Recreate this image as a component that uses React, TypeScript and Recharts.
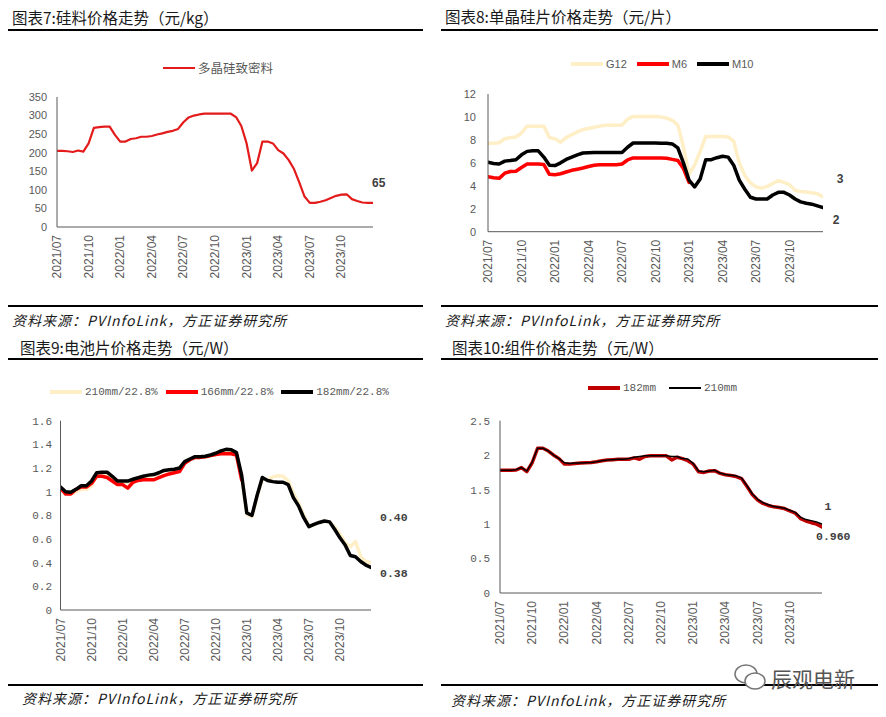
import React from 'react';
import { LineChart, Line, XAxis, YAxis, Legend } from 'recharts';

const SANS = '"Liberation Sans", Arial, sans-serif';
const MONO = '"Liberation Mono", "DejaVu Sans Mono", monospace';
const CJK = '"Noto Sans CJK SC", "Noto Sans", sans-serif';
const AXIS = '#595959';
const TXT = '#595959';
const LBL = '#404040';

// x positions: months since 2021/07
const months = [
  0, 0.5, 1, 1.5, 2, 2.5, 3, 3.5, 4, 4.5,
  5, 5.5, 6, 6.5, 7, 7.5, 8, 8.5, 9, 9.5,
  10, 10.5, 11, 11.5, 12, 12.5, 13, 13.5, 14, 14.5,
  15, 15.5, 16, 16.5, 17, 17.5, 18, 18.5, 19, 19.5,
  20, 20.5, 21, 21.5, 22, 22.5, 23, 23.5, 24, 24.5,
  25, 25.5, 26, 26.5, 27, 27.5, 28, 28.5, 29, 29.5,
  30,
];
const xTicks = [0, 3, 6, 9, 12, 15, 18, 21, 24, 27];
const xTickLabels = ['2021/07', '2021/10', '2022/01', '2022/04', '2022/07', '2022/10', '2023/01', '2023/04', '2023/07', '2023/10'];

// 图表7 多晶硅致密料 (元/kg)
const polySilicon = [
  205, 205, 204, 202, 206, 203, 225, 267, 269, 270,
  270, 248, 230, 230, 237, 239, 243, 243, 245, 249,
  252, 256, 259, 264, 282, 295, 300, 303, 305, 305,
  305, 305, 305, 305, 296, 272, 225, 152, 172, 230,
  230, 225, 207, 198, 180, 156, 120, 82, 65, 65,
  68, 72, 78, 84, 87, 88, 75, 70, 66, 65,
  65,
];

// 图表8 单晶硅片 (元/片)
const waferG12 = [
  7.7, 7.7, 7.75, 8.1, 8.2, 8.25, 8.6, 9.2, 9.2, 9.2,
  9.2, 8.2, 8.1, 7.8, 8.2, 8.45, 8.7, 8.9, 9.0, 9.1,
  9.2, 9.27, 9.27, 9.27, 9.3, 9.8, 10.05, 10.05, 10.05, 10.05,
  10.05, 10.0, 9.9, 9.7, 9.3, 7.4, 5.0, 5.8, 7.0, 8.3,
  8.3, 8.3, 8.3, 8.25, 7.9, 6.0, 4.9, 4.25, 3.9, 3.8,
  3.95, 4.2, 4.45, 4.3, 4.1, 3.6, 3.5, 3.45, 3.4, 3.3,
  3.05,
];
const waferM6 = [
  4.8, 4.7, 4.65, 5.1, 5.25, 5.27, 5.6, 5.9, 5.9, 5.9,
  5.85, 5.0, 4.97, 5.05, 5.2, 5.35, 5.45, 5.55, 5.68, 5.79,
  5.84, 5.84, 5.84, 5.84, 5.9, 6.25, 6.43, 6.43, 6.43, 6.43,
  6.43, 6.43, 6.4, 6.3, 6.2, 5.5, 4.3, null, null, null,
  null, null, null, null, null, null, null, null, null, null,
  null, null, null, null, null, null, null, null, null, null,
  null,
];
const waferM10 = [
  6.05, 5.95, 5.9, 6.15, 6.2, 6.27, 6.7, 7.0, 7.05, 7.05,
  6.5, 5.8, 5.76, 6.0, 6.3, 6.5, 6.7, 6.86, 6.88, 6.9,
  6.9, 6.9, 6.9, 6.9, 6.9, 7.36, 7.73, 7.73, 7.73, 7.72,
  7.72, 7.7, 7.7, 7.65, 7.3, 6.0, 4.5, 3.9, 4.6, 6.28,
  6.28, 6.45, 6.57, 6.5, 5.8, 4.5, 3.7, 3.0, 2.85, 2.85,
  2.85, 3.2, 3.43, 3.43, 3.2, 2.85, 2.6, 2.48, 2.4, 2.25,
  2.1,
];

// 图表9 电池片 (元/W)
const cell210 = [
  1.02, 0.99, 0.98, 1.0, 1.02, 1.02, 1.05, 1.14, 1.15, 1.15,
  1.12, 1.08, 1.08, 1.08, 1.1, 1.11, 1.12, 1.13, 1.14, 1.155,
  1.175, 1.18, 1.185, 1.195, 1.25, 1.27, 1.29, 1.29, 1.295, 1.305,
  1.32, 1.34, 1.35, 1.35, 1.32, 1.13, 0.81, 0.79, 0.96, 1.11,
  1.1, 1.125, 1.135, 1.13, 1.09, 0.99, 0.9, 0.8, 0.71, 0.72,
  0.74, 0.75, 0.745, 0.7, 0.64, 0.57, 0.535, 0.58, 0.45, 0.41,
  0.40,
];
const cell166 = [
  1.03, 0.98, 0.98, 1.02, 1.04, 1.04, 1.07, 1.13, 1.13, 1.12,
  1.09, 1.06, 1.06, 1.03, 1.08, 1.095, 1.1, 1.1, 1.1, 1.118,
  1.135, 1.15, 1.16, 1.17, 1.24, 1.27, 1.29, 1.29, 1.295, 1.305,
  1.315, 1.32, 1.32, 1.32, 1.31, 1.1, null, null, null, null,
  null, null, null, null, null, null, null, null, null, null,
  null, null, null, null, null, null, null, null, null, null,
  null,
];
const cell182 = [
  1.04, 1.0, 0.995, 1.02, 1.05, 1.05, 1.09, 1.16, 1.165, 1.165,
  1.13, 1.09, 1.09, 1.09, 1.105, 1.118, 1.13, 1.14, 1.145, 1.16,
  1.18, 1.185, 1.19, 1.2, 1.254, 1.276, 1.296, 1.296, 1.3, 1.31,
  1.325, 1.345, 1.358, 1.355, 1.33, 1.14, 0.82, 0.8, 0.97, 1.12,
  1.095, 1.085, 1.08, 1.08, 1.06, 0.95, 0.88, 0.78, 0.705, 0.724,
  0.74, 0.752, 0.745, 0.68, 0.61, 0.55, 0.46, 0.45, 0.41, 0.38,
  0.36,
];

// 图表10 组件 (元/W)
const module182 = [
  1.78, 1.78, 1.78, 1.785, 1.82, 1.76, 1.89, 2.1, 2.1, 2.06,
  2.0, 1.95, 1.87, 1.87, 1.88, 1.885, 1.89, 1.895, 1.905, 1.92,
  1.93, 1.935, 1.94, 1.94, 1.94, 1.96, 1.94, 1.98, 1.99, 1.99,
  1.99, 1.99, 1.93, 1.97, 1.95, 1.92, 1.87, 1.76, 1.75, 1.77,
  1.775, 1.735, 1.715, 1.705, 1.69, 1.66, 1.55, 1.43, 1.35, 1.3,
  1.27, 1.25, 1.24, 1.225, 1.19, 1.16, 1.08, 1.045, 1.02, 1.0,
  0.96,
];
const module210 = [
  1.78, 1.78, 1.78, 1.79, 1.82, 1.77, 1.9, 2.1, 2.1, 2.06,
  2.0, 1.95, 1.89, 1.88, 1.885, 1.885, 1.89, 1.895, 1.905, 1.92,
  1.93, 1.935, 1.94, 1.94, 1.95, 1.97, 1.98, 1.99, 1.99, 1.99,
  1.99, 1.99, 1.98, 1.98, 1.95, 1.945, 1.88, 1.77, 1.76, 1.77,
  1.78, 1.74, 1.72, 1.71, 1.7, 1.67, 1.56, 1.44, 1.36, 1.31,
  1.28, 1.255, 1.245, 1.23, 1.2, 1.17, 1.1, 1.065, 1.05, 1.03,
  1.0,
];

const yTicks1 = [0, 50, 100, 150, 200, 250, 300, 350];
const yTicks2 = [0, 2, 4, 6, 8, 10, 12];
const yTicks3 = [0, 0.2, 0.4, 0.6, 0.8, 1, 1.2, 1.4, 1.6];
const yTicks4 = [0, 0.5, 1, 1.5, 2, 2.5];

const endLabels = { poly: '65', g12: '3', m10: '2', c210: '0.40', c182: '0.38', m210: '1', m182: '0.960' };

const titles = ['图表7:硅料价格走势（元/kg）', '图表8:单晶硅片价格走势（元/片）', '图表9:电池片价格走势（元/W）', '图表10:组件价格走势（元/W）'];
const sourceText = '资料来源：PVInfoLink，方正证券研究所';

type EndLabel = { text: string; dx: number; dy: number; anchor: 'start' | 'middle' | 'end'; font: string; size: number };
type SeriesDef = {
  key: string; name: string; values: (number | null)[]; color: string; width: number;
  legendThick: number; end?: EndLabel;
};
type PanelProps = {
  w: number; h: number; top: number; right: number; yW: number; xH: number;
  yDomain: [number, number]; yTicks: number[]; yFmt: (v: number) => string; yFont: string; yTM: number;
  series: SeriesDef[]; legLeft: number; legTop: number; legGap: number; legFont: string; legSize: number;
};

const RotTick = (props: any) => {
  const { x, y, payload } = props;
  const i = xTicks.indexOf(payload.value);
  return (
    <g transform={`translate(${x},${y})`}>
      <text transform="rotate(-90)" x={0} y={0} textAnchor="end" dominantBaseline="central"
        fill={TXT} fontSize={12} fontFamily={SANS}>{i >= 0 ? xTickLabels[i] : ''}</text>
    </g>
  );
};

const makeEnd = (lastIndex: number, e: EndLabel) => (props: any) => {
  if (props.index !== lastIndex || props.x == null || props.y == null) return null;
  return (
    <text x={props.x + e.dx} y={props.y + e.dy} textAnchor={e.anchor} dominantBaseline="central"
      fontFamily={e.font} fontSize={e.size} fontWeight="bold" fill={LBL}>{e.text}</text>
  );
};

const LegendRow = ({ series, gap, font, size }: { series: SeriesDef[]; gap: number; font: string; size: number }) => (
  <div style={{ display: 'flex', alignItems: 'center', whiteSpace: 'nowrap', height: 16 }}>
    {series.map((s, i) => (
      <div key={s.key} style={{ display: 'flex', alignItems: 'center', marginLeft: i === 0 ? 0 : gap }}>
        <span style={{ display: 'inline-block', width: 32, height: s.legendThick, background: s.color }} />
        <span style={{ marginLeft: 3, fontFamily: font, fontSize: size, color: TXT, lineHeight: '16px' }}>{s.name}</span>
      </div>
    ))}
  </div>
);

function Panel(p: PanelProps) {
  const data = months.map((m, i) => {
    const r: Record<string, number | null> = { m };
    p.series.forEach((s) => { r[s.key] = s.values[i]; });
    return r;
  });
  return (
    <LineChart width={p.w} height={p.h} data={data} margin={{ top: p.top, right: p.right, bottom: 0, left: 0 }}>
      <XAxis type="number" dataKey="m" domain={[0, 30]} ticks={xTicks} interval={0} tickLine={false}
        tickSize={0} tickMargin={8} axisLine={{ stroke: AXIS }} height={p.xH} tick={<RotTick />} allowDataOverflow />
      <YAxis type="number" domain={p.yDomain} ticks={p.yTicks} interval={0} tickLine={false} tickSize={0}
        tickMargin={p.yTM} axisLine={{ stroke: AXIS }} width={p.yW}
        tick={{ fill: TXT, fontSize: 11, fontFamily: p.yFont }} tickFormatter={p.yFmt} allowDataOverflow />
      <Legend layout="horizontal" verticalAlign="middle" align="center"
        wrapperStyle={{ left: p.legLeft, top: p.legTop, width: 400, height: 16 }}
        content={() => <LegendRow series={p.series} gap={p.legGap} font={p.legFont} size={p.legSize} />} />
      {p.series.map((s) => (
        <Line key={s.key} type="linear" dataKey={s.key} name={s.name} stroke={s.color} strokeWidth={s.width}
          dot={false} activeDot={false} isAnimationActive={false} connectNulls={false}
          strokeLinejoin="round" strokeLinecap="round"
          label={s.end ? makeEnd(s.values.filter((v) => v !== null).length - 1, s.end) : false} />
      ))}
    </LineChart>
  );
}

const fmtInt = (v: number) => String(v);
const fmtDec = (v: number) => (Math.abs(v - Math.round(v)) < 1e-9 ? String(Math.round(v)) : v.toFixed(1));

const CREAM = '#FFEFC6';
const RED = '#FF0000';

const series1: SeriesDef[] = [
  { key: 'poly', name: '多晶硅致密料', values: polySilicon, color: '#E31B1B', width: 2.2, legendThick: 2.5,
    end: { text: endLabels.poly, dx: -1, dy: -20, anchor: 'start', font: SANS, size: 12 } },
];
const series2: SeriesDef[] = [
  { key: 'g12', name: 'G12', values: waferG12, color: CREAM, width: 3.5, legendThick: 4,
    end: { text: endLabels.g12, dx: 17, dy: -18, anchor: 'middle', font: SANS, size: 12 } },
  { key: 'm6', name: 'M6', values: waferM6, color: RED, width: 3.5, legendThick: 4 },
  { key: 'm10', name: 'M10', values: waferM10, color: '#000000', width: 3.5, legendThick: 4,
    end: { text: endLabels.m10, dx: 13, dy: 12, anchor: 'middle', font: SANS, size: 12 } },
];
const series3: SeriesDef[] = [
  { key: 'c210', name: '210mm/22.8%', values: cell210, color: CREAM, width: 3.5, legendThick: 4,
    end: { text: endLabels.c210, dx: 9, dy: -45, anchor: 'start', font: MONO, size: 11.5 } },
  { key: 'c166', name: '166mm/22.8%', values: cell166, color: RED, width: 3.5, legendThick: 4 },
  { key: 'c182', name: '182mm/22.8%', values: cell182, color: '#000000', width: 3.5, legendThick: 4,
    end: { text: endLabels.c182, dx: 9, dy: 6, anchor: 'start', font: MONO, size: 11.5 } },
];
const series4: SeriesDef[] = [
  { key: 'm182', name: '182mm', values: module182, color: '#C00000', width: 3.5, legendThick: 4,
    end: { text: endLabels.m182, dx: -6, dy: 10, anchor: 'start', font: MONO, size: 11.5 } },
  { key: 'm210', name: '210mm', values: module210, color: '#000000', width: 1.5, legendThick: 2,
    end: { text: endLabels.m210, dx: 6, dy: -18, anchor: 'middle', font: MONO, size: 11.5 } },
];

const Rule = ({ x, y, w }: { x: number; y: number; w: number }) => (
  <div style={{ position: 'absolute', left: x, top: y, width: w, height: 2, background: '#000' }} />
);
const Title = ({ x, y, text }: { x: number; y: number; text: string }) => (
  <div style={{ position: 'absolute', left: x, top: y - 11, height: 22, lineHeight: '22px', fontSize: 15.5,
    fontFamily: CJK, color: '#1a1a1a', whiteSpace: 'nowrap' }}>{text}</div>
);
const Source = ({ x, y }: { x: number; y: number }) => (
  <div style={{ position: 'absolute', left: x, top: y - 9, height: 18, lineHeight: '18px', fontSize: 14,
    fontFamily: CJK, fontStyle: 'italic', color: '#1a1a1a', whiteSpace: 'nowrap', letterSpacing: 1 }}>{sourceText}</div>
);

export default function App() {
  return (
    <div style={{ position: 'absolute', left: 0, top: 0, width: 886, height: 717, background: '#fff', overflow: 'hidden' }}>
      <Title x={12} y={17} text={titles[0]} />
      <Title x={445} y={16} text={titles[1]} />
      <Title x={20} y={347} text={titles[2]} />
      <Title x={452} y={347} text={titles[3]} />

      <Rule x={8} y={29} w={415} />
      <Rule x={441} y={29} w={437} />
      <Rule x={8} y={305} w={415} />
      <Rule x={441} y={305} w={437} />
      <Rule x={8} y={358} w={415} />
      <Rule x={441} y={358} w={437} />
      <Rule x={8} y={684} w={415} />
      <Rule x={441} y={684} w={437} />

      <Source x={12} y={320} />
      <Source x={445} y={320} />
      <Source x={22} y={698} />
      <Source x={451} y={700} />

      <div style={{ position: 'absolute', left: 0, top: 40 }}>
        <Panel w={443} h={260} top={57} right={70} yW={57} xH={73} yDomain={[0, 350]} yTicks={yTicks1}
          yFmt={fmtInt} yFont={SANS} yTM={10} series={series1} legLeft={163} legTop={20} legGap={10}
          legFont={CJK} legSize={12.5} />
      </div>
      <div style={{ position: 'absolute', left: 443, top: 40 }}>
        <Panel w={443} h={260} top={54} right={63} yW={45} xH={68.3} yDomain={[0, 12]} yTicks={yTicks2}
          yFmt={fmtInt} yFont={SANS} yTM={12} series={series2} legLeft={128} legTop={16} legGap={10}
          legFont={SANS} legSize={11} />
      </div>
      <div style={{ position: 'absolute', left: 0, top: 370 }}>
        <Panel w={443} h={310} top={50.7} right={72} yW={60.5} xH={70} yDomain={[0, 1.6]} yTicks={yTicks3}
          yFmt={fmtDec} yFont={MONO} yTM={8.5} series={series3} legLeft={50} legTop={14} legGap={8}
          legFont={MONO} legSize={11} />
      </div>
      <div style={{ position: 'absolute', left: 443, top: 370 }}>
        <Panel w={443} h={310} top={50.7} right={64} yW={57} xH={87} yDomain={[0, 2.5]} yTicks={yTicks4}
          yFmt={fmtDec} yFont={MONO} yTM={10} series={series4} legLeft={145} legTop={10} legGap={13}
          legFont={MONO} legSize={11} />
      </div>

      <svg style={{ position: 'absolute', left: 733, top: 662 }} width={34} height={30}>
        <ellipse cx={13} cy={12} rx={11} ry={9} fill="none" stroke="#777" strokeWidth={1.5} />
        <ellipse cx={22} cy={19} rx={10} ry={8} fill="#fff" stroke="#777" strokeWidth={1.5} />
      </svg>
      <div style={{ position: 'absolute', left: 771, top: 665, fontSize: 21, lineHeight: '26px', fontFamily: CJK,
        color: '#555', whiteSpace: 'nowrap' }}>辰观电新</div>
    </div>
  );
}
